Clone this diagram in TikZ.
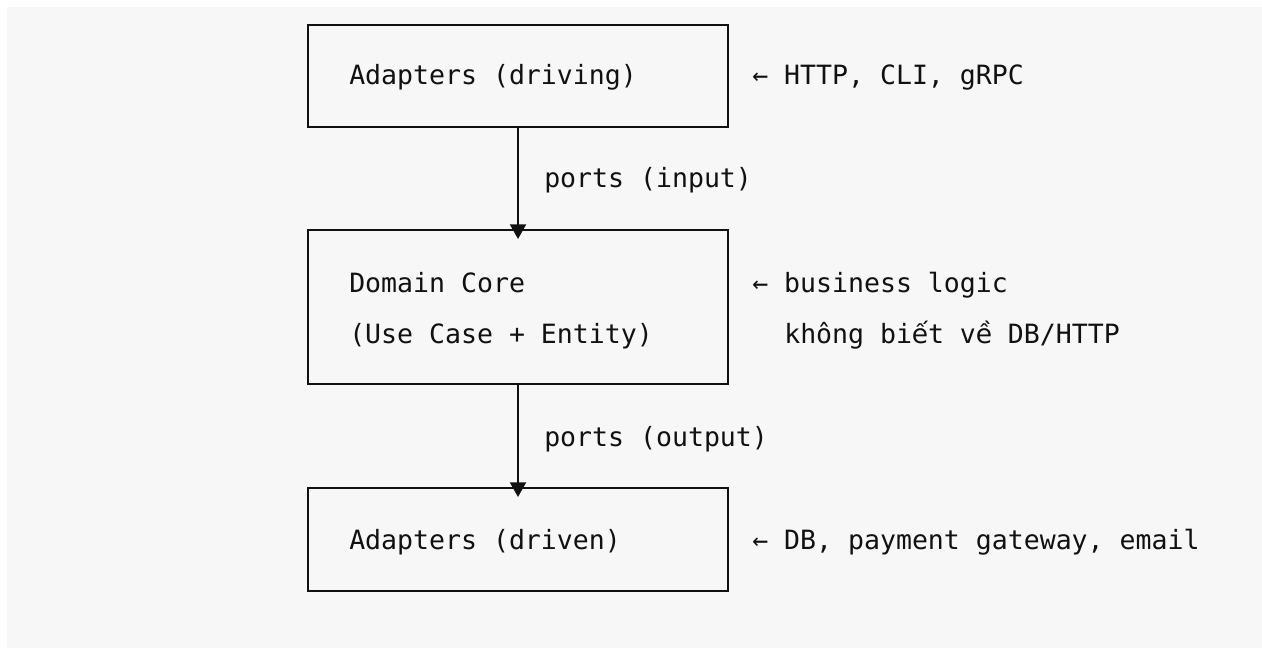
\documentclass[tikz,border=0pt]{standalone}
\usepackage{fontspec}
\setmonofont{DejaVu Sans Mono}
\newfontfamily\vnfont{DejaVu Sans}
\usetikzlibrary{arrows.meta}
\definecolor{panel}{HTML}{F7F7F7}
\definecolor{ink}{HTML}{111111}
% one monospace cell set in a font that has the Vietnamese letter
\newcommand\vnchar[1]{\makebox[0.602em][c]{\vnfont #1}}

\begin{document}
\begin{tikzpicture}[x=0.75pt,y=-0.75pt,
    box/.style={draw=ink,line width=1.5pt,minimum width=315pt,inner sep=0pt},
    txt/.style={anchor=base west,inner sep=0pt,text=ink,font=\ttfamily\fontsize{19.9}{24}\selectfont},
    flow/.style={draw=ink,line width=1.5pt,-{Triangle[width=12pt,length=11pt]},shorten >=-7.5pt}]
    \useasboundingbox (0,0) rectangle (1262,648);
    \fill[white] (0,0) rectangle (1262,648);
    \fill[panel] (7,7) rectangle (1262,648);
    % the three layers
    \node[box,minimum height=76.5pt] (driving) at (518,76) {};
    \node[box,minimum height=115.5pt] (core) at (518,307) {};
    \node[box,minimum height=77.25pt] (driven) at (518,539.5) {};
    \node[txt] (drivinglab) at (349,85) {Adapters (driving)};
    \node[txt] (corelab) at (349,292) {Domain Core};
    \node[txt] (corelabb) at (349,343) {(Use Case + Entity)};
    \node[txt] (drivenlab) at (349,549) {Adapters (driven)};
    % ports
    \draw[flow] (driving.south) -- (core.north);
    \draw[flow] (core.south) -- (driven.north);
    \node[txt] (portin) at (544,188) {ports (input)};
    \node[txt] (portout) at (544,446) {ports (output)};
    % notes on the right
    \node[txt] (notein) at (752,85) {← HTTP, CLI, gRPC};
    \node[txt] (notecore) at (752,292) {← business logic};
    \node[txt] (notecoreb) at (784,343) {không bi\vnchar{ế}t v\vnchar{ề} DB/HTTP};
    \node[txt] (noteout) at (752,549) {← DB, payment gateway, email};
\end{tikzpicture}
\end{document}
